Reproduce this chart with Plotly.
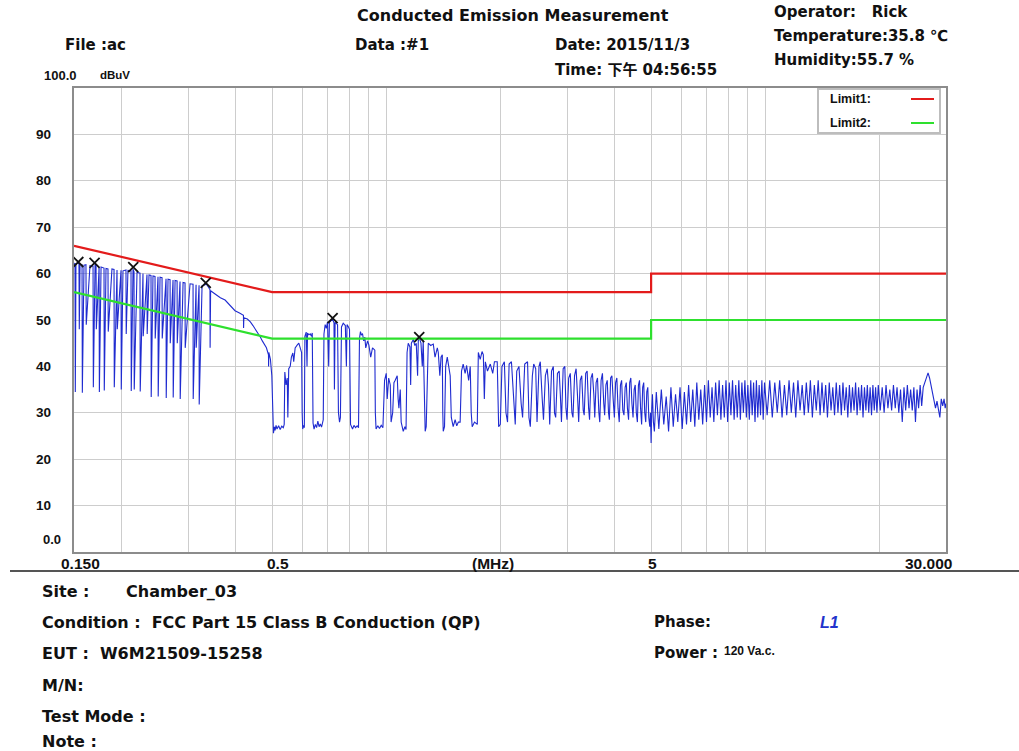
import math
import plotly.graph_objects as go

# ---------------- data ----------------
# measured trace (frequency MHz, level dBuV), read off the picture, per region
scan_a = [(0.1500, 61.8), (0.1509, 62.3), (0.1512, 34.5), (0.1518, 62.0), (0.1537, 62.4),
          (0.1546, 62.1), (0.1549, 48.0), (0.1556, 62.0), (0.1575, 61.9), (0.1578, 34.3),
          (0.1594, 61.8), (0.1613, 61.9), (0.1616, 49.0), (0.1653, 61.7), (0.1684, 61.6),
          (0.1687, 35.5), (0.1705, 62.0), (0.1715, 61.7), (0.1718, 48.0), (0.1747, 61.3),
          (0.1750, 34.5), (0.1768, 61.4), (0.1800, 61.2), (0.1803, 34.8), (0.1822, 61.1),
          (0.1844, 61.0), (0.1847, 47.5), (0.1889, 61.0), (0.1913, 60.9), (0.1916, 35.5),
          (0.1948, 60.8), (0.1951, 48.0), (0.1996, 60.7), (0.1999, 35.0), (0.2020, 60.6),
          (0.2057, 60.8), (0.2060, 47.0), (0.2082, 60.7), (0.2121, 60.6), (0.2124, 34.7),
          (0.2147, 61.0), (0.2160, 60.4), (0.2163, 35.0), (0.2200, 60.3), (0.2240, 60.1),
          (0.2243, 34.6), (0.2281, 60.0), (0.2284, 46.5), (0.2337, 59.8), (0.2340, 47.0),
          (0.2366, 59.7), (0.2395, 59.6), (0.2398, 33.4), (0.2424, 59.5), (0.2454, 59.4),
          (0.2457, 46.0), (0.2499, 59.3), (0.2502, 33.5), (0.2530, 59.2), (0.2561, 59.1),
          (0.2564, 46.0), (0.2624, 58.9), (0.2627, 33.2), (0.2656, 58.8), (0.2689, 58.7),
          (0.2692, 45.0), (0.2738, 58.6), (0.2741, 33.3), (0.2772, 58.5), (0.2806, 58.4),
          (0.2809, 45.0), (0.2857, 58.3), (0.2860, 33.0), (0.2910, 58.1), (0.2945, 58.0),
          (0.2948, 44.0), (0.3036, 57.8), (0.3092, 57.7), (0.3095, 33.0), (0.3149, 57.6),
          (0.3152, 44.0), (0.3207, 57.5), (0.3210, 31.8), (0.3266, 57.4), (0.3326, 57.6),
          (0.3347, 57.8)]

scan_b = [(0.3400, 57.0), (0.3427, 56.5), (0.3430, 44.0), (0.3440, 56.3), (0.3535, 55.6),
          (0.3650, 54.8), (0.3756, 54.3), (0.3880, 53.0), (0.3990, 52.0), (0.4100, 51.5),
          (0.4200, 51.0), (0.4203, 48.3), (0.4210, 50.5), (0.4300, 50.2), (0.4380, 49.6),
          (0.4450, 48.8), (0.4517, 48.0), (0.4600, 47.2), (0.4657, 46.3), (0.4710, 45.5),
          (0.4780, 44.5), (0.4829, 44.0), (0.4890, 42.5), (0.4893, 40.0), (0.4900, 43.0),
          (0.4948, 41.5), (0.4990, 38.0), (0.5040, 25.6), (0.5070, 27.0), (0.5090, 26.2),
          (0.5120, 27.3), (0.5150, 26.5), (0.5200, 27.2), (0.5250, 26.4), (0.5300, 27.1),
          (0.5350, 26.8), (0.5380, 27.5), (0.5400, 38.8), (0.5440, 36.0), (0.5480, 37.5),
          (0.5500, 29.0), (0.5530, 39.5), (0.5580, 40.0), (0.5620, 42.0), (0.5670, 42.9),
          (0.5700, 41.0), (0.5750, 44.0), (0.5820, 44.6), (0.5880, 45.0), (0.5930, 44.0),
          (0.5980, 43.0), (0.6000, 30.0), (0.6020, 26.5), (0.6050, 27.3), (0.6080, 26.8),
          (0.6100, 46.5), (0.6150, 47.4), (0.6180, 40.0), (0.6200, 47.2), (0.6250, 46.8),
          (0.6300, 47.0), (0.6350, 46.5), (0.6380, 47.2), (0.6410, 27.8), (0.6450, 26.5),
          (0.6500, 27.5), (0.6550, 26.8), (0.6600, 28.2), (0.6650, 27.0), (0.6700, 27.6),
          (0.6750, 26.9), (0.6820, 28.5), (0.6850, 47.0), (0.6900, 49.0), (0.6950, 48.2),
          (0.7000, 49.6), (0.7050, 40.0), (0.7080, 49.5), (0.7150, 49.8), (0.7216, 50.2),
          (0.7280, 49.4), (0.7300, 35.0), (0.7330, 49.5), (0.7400, 49.2), (0.7440, 49.0),
          (0.7480, 30.0), (0.7530, 28.0), (0.7570, 29.0), (0.7620, 48.5), (0.7700, 49.3),
          (0.7800, 48.8), (0.7850, 40.0), (0.7880, 49.0), (0.7950, 48.5), (0.8000, 48.0),
          (0.8050, 27.5), (0.8150, 26.5), (0.8220, 27.3), (0.8300, 26.8), (0.8380, 27.2),
          (0.8450, 26.8), (0.8500, 46.0), (0.8550, 47.5), (0.8600, 46.8), (0.8660, 47.0),
          (0.8720, 45.5), (0.8780, 46.3), (0.8830, 44.0), (0.8930, 45.5), (0.9000, 44.6),
          (0.9100, 42.0), (0.9200, 44.0), (0.9330, 43.5), (0.9360, 30.0), (0.9400, 26.5),
          (0.9500, 27.2), (0.9600, 26.6), (0.9700, 27.3), (0.9800, 26.8), (0.9900, 37.0),
          (1.0000, 38.5), (1.0060, 33.0), (1.0150, 37.5), (1.0250, 36.0), (1.0300, 28.0),
          (1.0400, 30.0), (1.0480, 36.5), (1.0560, 37.0), (1.0690, 38.0), (1.0750, 33.0),
          (1.0800, 31.0), (1.0890, 35.0), (1.0950, 28.0), (1.1090, 26.0), (1.1200, 27.0),
          (1.1280, 26.4), (1.1350, 43.0), (1.1430, 45.0), (1.1550, 44.2), (1.1600, 36.0),
          (1.1650, 45.0), (1.1790, 45.8), (1.1900, 44.5), (1.2000, 45.0), (1.2100, 38.0),
          (1.2150, 45.5), (1.2220, 46.2), (1.2350, 45.0), (1.2450, 40.0), (1.2520, 45.5),
          (1.2600, 30.0), (1.2670, 26.0), (1.2750, 27.0), (1.2850, 44.0), (1.2910, 45.0),
          (1.3100, 44.5), (1.3310, 44.8), (1.3450, 42.0), (1.3640, 44.0), (1.3720, 43.0),
          (1.3850, 38.0), (1.3950, 42.0), (1.4060, 42.5), (1.4100, 30.0), (1.4140, 26.0),
          (1.4250, 27.0), (1.4350, 40.0), (1.4490, 42.0), (1.4600, 40.5), (1.4750, 38.0),
          (1.4850, 29.0), (1.5020, 27.0), (1.5200, 28.5), (1.5350, 27.2), (1.5500, 28.0),
          (1.5670, 28.0), (1.5800, 39.0), (1.5960, 40.5), (1.6150, 38.5), (1.6300, 40.2),
          (1.6500, 37.0), (1.6660, 40.0), (1.6760, 30.0), (1.6860, 27.0), (1.7100, 28.0),
          (1.7390, 27.5), (1.7500, 43.0), (1.7700, 41.5), (1.7900, 43.2), (1.8040, 42.5),
          (1.8150, 33.0), (1.8260, 41.0), (1.8500, 39.0), (1.8820, 40.5), (1.9100, 38.5),
          (1.9300, 41.0), (1.9630, 41.0), (1.9700, 30.0), (1.9800, 27.0), (2.0000, 27.5)]

scan_c = [(2.02, 40.0), (2.05, 41.0), (2.07, 30.0), (2.09, 28.0), (2.11, 40.5), (2.14, 41.0),
          (2.16, 35.0), (2.19, 27.5), (2.21, 39.0), (2.24, 40.0), (2.27, 32.0), (2.29, 29.0),
          (2.32, 40.5), (2.36, 41.0), (2.38, 29.0), (2.40, 27.0), (2.43, 38.0), (2.45, 40.5),
          (2.48, 39.5), (2.50, 28.0), (2.53, 40.0), (2.55, 41.0), (2.58, 33.0), (2.60, 28.5),
          (2.63, 38.0), (2.66, 39.5), (2.68, 36.0), (2.70, 27.5), (2.73, 39.0), (2.76, 40.0),
          (2.78, 30.0), (2.80, 29.0), (2.83, 38.5), (2.86, 39.0), (2.88, 34.0), (2.90, 28.0),
          (2.93, 39.5), (2.96, 40.0), (2.98, 31.0), (3.00, 28.5), (3.03, 37.5), (3.06, 38.5),
          (3.09, 30.0), (3.11, 29.0), (3.14, 38.0), (3.17, 39.5), (3.20, 33.0), (3.22, 28.0),
          (3.25, 37.0), (3.28, 38.0), (3.31, 30.5), (3.33, 29.5), (3.36, 38.5), (3.39, 39.0),
          (3.42, 31.0), (3.44, 28.5), (3.47, 37.5), (3.50, 38.5), (3.53, 34.0), (3.55, 29.0),
          (3.58, 36.5), (3.61, 37.5), (3.64, 30.0), (3.66, 28.0), (3.69, 37.0), (3.72, 38.5),
          (3.75, 32.0), (3.77, 29.5), (3.80, 36.0), (3.83, 37.0), (3.86, 30.0), (3.88, 28.5),
          (3.91, 37.5), (3.94, 38.0), (3.97, 33.0), (4.00, 29.0), (4.03, 36.5), (4.06, 37.5),
          (4.09, 31.0), (4.12, 28.0), (4.15, 36.0), (4.18, 37.0), (4.21, 30.5), (4.24, 29.5),
          (4.27, 35.5), (4.30, 36.5), (4.33, 31.0), (4.36, 28.5), (4.39, 36.5), (4.42, 37.5),
          (4.45, 32.0), (4.48, 29.0), (4.51, 35.0), (4.54, 36.0), (4.57, 30.0), (4.60, 28.0),
          (4.63, 36.0), (4.66, 37.0), (4.69, 31.0), (4.72, 27.5), (4.75, 35.5), (4.78, 36.5),
          (4.81, 30.0), (4.84, 28.0), (4.87, 34.5), (4.90, 35.5), (4.93, 29.0), (4.96, 27.0),
          (4.98, 30.0), (5.00, 23.5), (5.02, 31.0), (5.04, 34.0), (5.07, 28.0), (5.10, 26.0)]

scan_d = [(5.16, 34.5), (5.24, 26.5), (5.32, 35.0), (5.40, 27.5), (5.48, 33.5), (5.56, 26.0),
          (5.64, 35.5), (5.72, 27.0), (5.80, 34.0), (5.88, 28.0), (5.96, 35.5), (6.04, 26.5),
          (6.12, 34.5), (6.20, 27.5), (6.28, 36.0), (6.36, 28.0), (6.44, 35.0), (6.52, 27.0),
          (6.60, 36.5), (6.68, 28.5), (6.76, 35.0), (6.84, 27.5), (6.92, 36.0), (7.00, 28.0),
          (7.08, 37.0), (7.16, 29.0), (7.24, 35.5), (7.32, 28.0), (7.40, 36.5), (7.48, 29.5),
          (7.56, 37.0), (7.64, 28.5), (7.72, 36.0), (7.80, 29.0), (7.88, 37.0), (7.96, 28.0),
          (8.04, 36.5), (8.12, 29.5), (8.20, 37.0), (8.28, 28.5), (8.36, 36.0), (8.44, 29.0),
          (8.52, 37.0), (8.60, 28.5), (8.68, 36.5), (8.76, 30.0), (8.84, 37.0), (8.92, 29.0),
          (9.00, 36.0), (9.08, 28.5), (9.16, 37.0), (9.24, 29.5), (9.32, 36.5), (9.40, 28.0),
          (9.48, 37.0), (9.56, 29.0), (9.64, 36.0), (9.72, 29.5), (9.80, 37.0), (9.88, 28.5),
          (9.96, 36.5)]

scan_e = [(10.12, 29.5), (10.28, 37.0), (10.44, 29.0), (10.60, 36.5), (10.76, 30.0),
          (10.92, 37.0), (11.08, 29.0), (11.24, 36.0), (11.40, 29.5), (11.56, 37.0),
          (11.72, 30.0), (11.88, 36.5), (12.04, 29.0), (12.20, 37.0), (12.36, 30.5),
          (12.52, 36.0), (12.68, 29.5), (12.84, 36.5), (13.00, 30.0), (13.16, 37.0),
          (13.32, 29.0), (13.48, 36.0), (13.64, 30.5), (13.80, 37.0), (13.96, 29.5),
          (14.12, 36.5), (14.28, 30.0), (14.44, 36.0), (14.60, 29.0), (14.76, 36.5),
          (14.92, 30.5), (15.08, 35.5), (15.24, 29.5), (15.40, 36.5), (15.56, 30.0),
          (15.72, 36.0), (15.88, 29.5), (16.04, 36.5), (16.20, 30.5), (16.36, 35.5),
          (16.52, 29.0), (16.68, 36.0), (16.84, 30.0), (17.00, 35.5), (17.16, 30.5),
          (17.32, 36.5), (17.48, 29.5), (17.64, 35.5), (17.80, 30.5), (17.96, 36.0),
          (18.12, 29.0), (18.28, 35.5), (18.44, 30.5), (18.60, 36.0), (18.76, 30.0),
          (18.92, 35.5), (19.08, 29.5), (19.24, 36.0), (19.40, 30.5), (19.56, 35.5),
          (19.72, 30.0), (19.88, 36.0)]

scan_f = [(20.12, 30.5), (20.36, 35.5), (20.60, 30.0), (20.84, 36.0), (21.08, 31.0),
          (21.32, 35.0), (21.56, 30.5), (21.80, 36.0), (22.04, 31.0), (22.28, 35.5),
          (22.52, 30.0), (22.76, 35.0), (23.00, 28.0), (23.24, 35.5), (23.48, 30.5),
          (23.72, 36.0), (23.96, 31.0), (24.20, 35.0), (24.44, 30.5), (24.68, 35.5),
          (24.92, 28.0), (25.16, 35.0), (25.40, 31.0), (25.64, 36.0), (25.88, 31.5),
          (26.12, 35.5), (26.40, 36.5), (26.65, 37.5), (26.90, 38.6), (27.15, 37.5),
          (27.40, 36.0), (27.65, 34.0), (27.90, 33.0), (28.15, 31.0), (28.40, 32.5),
          (28.65, 30.5), (28.90, 29.0), (29.15, 33.0), (29.40, 31.5), (29.65, 33.0),
          (29.85, 31.0), (30.00, 32.0)]

peak_freq = [0.154, 0.170, 0.215, 0.334, 0.722, 1.222]
peak_level = [62.5, 62.3, 61.4, 58.0, 50.4, 46.3]

limit1_freq = [0.15, 0.5, 5, 5, 30]
limit1_level = [66, 56, 56, 60, 60]
limit2_freq = [0.15, 0.5, 5, 5, 30]
limit2_level = [56, 46, 46, 50, 50]

grid_freq = [0.2, 0.3, 0.4, 0.5, 0.6, 0.7, 0.8, 0.9, 1, 2, 3, 4, 5, 6, 7, 8, 9, 10, 20]
grid_level = [10, 20, 30, 40, 50, 60, 70, 80, 90]
y_tick_labels = ["10", "20", "30", "40", "50", "60", "70", "80", "90"]
x_tick_labels = ["0.150", "0.5", "(MHz)", "5", "30.000"]

header_texts = ["Conducted Emission Measurement", "File :ac", "Data :#1", "Date: 2015/11/3",
                "Time: 下午 04:56:55", "Operator:\u00a0\u00a0 Rick", "Temperature:35.8 ℃",
                "Humidity:55.7 %"]
footer_texts = ["Site :", "Chamber_03", "Condition :\u00a0 FCC Part 15 Class B Conduction (QP)",
                "EUT :\u00a0 W6M21509-15258", "M/N:", "Test Mode :", "Note :",
                "Phase:", "L1", "Power :", "120 Va.c."]

# ---------------- figure ----------------
W, H = 1019, 751
PL, PR, PT, PB = 74, 946, 88, 552


def px(x):
    return x / W


def py(y):
    return 1 - y / H


scan = scan_a + scan_b + scan_c + scan_d + scan_e + scan_f
freq = [p[0] for p in scan]
level = [p[1] for p in scan]

fig = go.Figure()
fig.add_trace(go.Scatter(x=freq, y=level, mode="lines",
                         line=dict(color="#1f2bd0", width=1.1), hoverinfo="skip"))
fig.add_trace(go.Scatter(x=limit2_freq, y=limit2_level, mode="lines",
                         line=dict(color="#2ee02e", width=2.2), hoverinfo="skip"))
fig.add_trace(go.Scatter(x=limit1_freq, y=limit1_level, mode="lines",
                         line=dict(color="#e31b1b", width=2.2), hoverinfo="skip"))
fig.add_trace(go.Scatter(x=peak_freq, y=peak_level, mode="markers",
                         marker=dict(symbol="x-thin", size=10,
                                     line=dict(color="#111111", width=1.8)),
                         hoverinfo="skip"))

axis_common = dict(showgrid=True, gridcolor="#cdcdcd", gridwidth=1, showline=True,
                   mirror=True, linecolor="#8c8c8c", linewidth=2, zeroline=False,
                   showticklabels=False, ticks="", fixedrange=True)

fig.update_layout(
    width=W, height=H, margin=dict(l=0, r=0, t=0, b=0),
    paper_bgcolor="white", plot_bgcolor="white", showlegend=False,
    xaxis=dict(type="log", range=[math.log10(0.15), math.log10(30)],
               domain=[px(PL), px(PR)], tickmode="array", tickvals=grid_freq, **axis_common),
    yaxis=dict(range=[0, 100], domain=[py(PB), py(PT)], tickmode="array",
               tickvals=grid_level, **axis_common),
)

HF = "DejaVu Sans, Liberation Sans, Noto Sans CJK SC, sans-serif"
NF = "Liberation Sans Narrow, Liberation Sans, Arial, sans-serif"
AF = "Liberation Sans, Arial, sans-serif"

ann = []


def text(t, x, y, size=15, family=HF, color="#111111", anchor="left", bold=False, italic=False):
    s = t
    if bold:
        s = "<b>" + s + "</b>"
    if italic:
        s = "<i>" + s + "</i>"
    ann.append(dict(text=s, x=px(x), y=py(y), xref="paper", yref="paper",
                    xanchor=anchor, yanchor="middle", showarrow=False,
                    font=dict(family=family, size=size, color=color)))


# header
text(header_texts[0], 355, 15, size=16, bold=True)
text(header_texts[1], 63, 45, bold=True)
text(header_texts[2], 353, 45, bold=True)
text(header_texts[3], 553, 45, bold=True)
text(header_texts[4], 553, 70, bold=True)
text(header_texts[5], 772, 12, bold=True)
text(header_texts[6], 772, 36, bold=True)
text(header_texts[7], 772, 60, bold=True)

# axis labels
text("100.0", 60, 75, size=13, family=AF, anchor="center", bold=True)
text("dBuV", 115, 75, size=11.5, family=AF, anchor="center", bold=True)
for v, lab in zip(grid_level, y_tick_labels):
    ann.append(dict(text="<b>" + lab + "</b>", x=px(43), y=v, xref="paper", yref="y",
                    xanchor="center", yanchor="middle", showarrow=False,
                    font=dict(family=NF, size=13.5, color="#111111")))
text("0.0", 52, 539, size=13, family=AF, anchor="center", bold=True)
for lab, x in zip(x_tick_labels, [80, 278, 493, 652, 928]):
    text(lab, x, 563, size=15.5, family=NF, anchor="center", bold=True)

# legend
text("Limit1:", 828, 99, size=12.5, family=AF, bold=True)
text("Limit2:", 828, 123, size=12.5, family=AF, bold=True)

# footer
fy = [591, 622, 653, 685, 716, 741]
text(footer_texts[0], 40, fy[0], size=16, bold=True)
text(footer_texts[1], 124, fy[0], size=16, bold=True)
text(footer_texts[2], 40, fy[1], size=16, bold=True)
text(footer_texts[3], 40, fy[2], size=16, bold=True)
text(footer_texts[4], 40, fy[3], size=16, bold=True)
text(footer_texts[5], 40, fy[4], size=16, bold=True)
text(footer_texts[6], 40, fy[5], size=16, bold=True)
text(footer_texts[7], 652, fy[1], size=15, bold=True)
text(footer_texts[8], 818, fy[1], size=16, family=AF, color="#2233cc", bold=True, italic=True)
text(footer_texts[9], 652, fy[2], size=15, bold=True)
text(footer_texts[10], 722, fy[2] - 2, size=12, family=NF, bold=True)

fig.update_layout(annotations=ann)

shapes = [
    dict(type="rect", xref="paper", yref="paper", x0=px(818), x1=px(940), y0=py(133), y1=py(89),
         line=dict(color="#bdbdbd", width=2), fillcolor="white", layer="above"),
    dict(type="line", xref="paper", yref="paper", x0=px(911), x1=px(934), y0=py(99), y1=py(99),
         line=dict(color="#e31b1b", width=2)),
    dict(type="line", xref="paper", yref="paper", x0=px(911), x1=px(934), y0=py(123), y1=py(123),
         line=dict(color="#2ee02e", width=2)),
    dict(type="line", xref="paper", yref="paper", x0=px(10), x1=px(1019), y0=py(571), y1=py(571),
         line=dict(color="#555555", width=2)),
]
fig.update_layout(shapes=shapes)

fig.write_html("out.html", config={"displayModeBar": False},
               post_script="document.body.style.margin='0';")
